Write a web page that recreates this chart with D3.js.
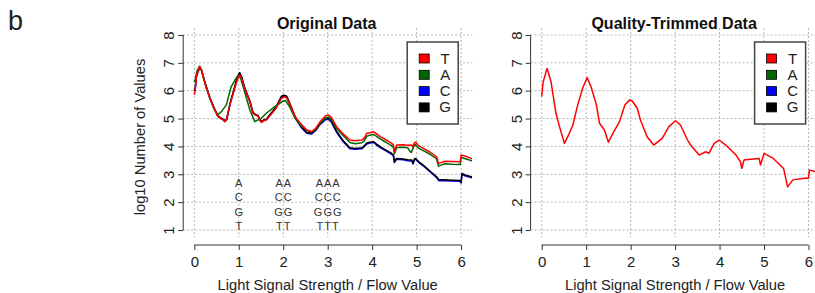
<!DOCTYPE html>
<html>
<head>
<meta charset="utf-8">
<script src="https://cdn.jsdelivr.net/npm/d3@7"></script>
<style>
  body { margin: 0; background: #fff; }
  svg { display: block; font-family: "Liberation Sans", Arial, sans-serif; }
</style>
</head>
<body>
<svg id="chart" width="815" height="293"></svg>
<script>
// ---- data ----
var xTicks = [0, 1, 2, 3, 4, 5, 6]
var yTicks = [1, 2, 3, 4, 5, 6, 7, 8]
var bases = ["T", "A", "C", "G"]
var baseColors = ["#ff0000", "#006400", "#0000ff", "#000000"]
var annotRuns = [1, 2, 3]            // homopolymer length written under each flow value
var annotBases = ["A", "C", "G", "T"]

// Original data, [flow value, log10 count]
var origT = [[0,5.85],[0.02,6.0],[0.05,6.56],[0.12,6.86],[0.16,6.75],[0.23,6.32],[0.35,5.73],[0.46,5.31],[0.53,5.07],[0.6,5.0],[0.65,4.95],[0.68,4.89],[0.72,4.95],[0.8,5.49],[0.91,6.09],[0.97,6.4],[1.02,6.56],[1.06,6.45],[1.13,6.09],[1.25,5.61],[1.32,5.19],[1.38,5.12],[1.43,5.1],[1.47,4.95],[1.51,4.86],[1.56,4.92],[1.62,4.95],[1.7,5.1],[1.84,5.37],[1.96,5.73],[2.03,5.78],[2.08,5.74],[2.18,5.4],[2.27,5.07],[2.4,4.8],[2.53,4.59],[2.64,4.53],[2.73,4.65],[2.83,4.89],[2.95,5.1],[3.01,5.13],[3.08,5.05],[3.2,4.71],[3.35,4.45],[3.5,4.23],[3.62,4.2],[3.7,4.22],[3.77,4.23],[3.82,4.3],[3.88,4.47],[3.95,4.49],[4.03,4.53],[4.1,4.45],[4.18,4.35],[4.3,4.25],[4.44,4.11],[4.48,4.05],[4.5,3.81],[4.53,3.95],[4.55,4.05],[4.7,4.06],[4.8,4.04],[4.89,4.05],[4.92,3.98],[4.95,4.13],[4.98,4.15],[5.05,4.02],[5.15,3.93],[5.3,3.8],[5.45,3.63],[5.49,3.39],[5.55,3.42],[5.64,3.47],[5.8,3.46],[5.98,3.45],[6.0,3.69],[6.1,3.65],[6.23,3.57],[6.25,3.56]]
var origA = [[0,6.3],[0.02,6.4],[0.06,6.7],[0.12,6.88],[0.17,6.7],[0.27,6.09],[0.42,5.43],[0.53,5.13],[0.57,5.2],[0.61,5.25],[0.72,5.49],[0.83,6.15],[0.94,6.45],[0.99,6.55],[1.04,6.45],[1.13,5.97],[1.25,5.31],[1.36,4.89],[1.43,4.95],[1.5,5.0],[1.62,5.19],[1.81,5.43],[1.99,5.62],[2.05,5.65],[2.15,5.4],[2.27,5.0],[2.4,4.75],[2.53,4.58],[2.64,4.52],[2.73,4.62],[2.83,4.83],[2.95,5.02],[3.02,5.05],[3.08,4.97],[3.2,4.65],[3.35,4.38],[3.5,4.14],[3.62,4.1],[3.77,4.13],[3.82,4.2],[3.88,4.37],[3.95,4.4],[4.03,4.43],[4.1,4.36],[4.18,4.27],[4.3,4.16],[4.44,4.02],[4.48,3.96],[4.5,3.73],[4.53,3.86],[4.55,3.96],[4.7,3.97],[4.8,3.95],[4.85,3.82],[4.88,3.78],[4.92,3.93],[4.96,4.08],[5.05,3.93],[5.15,3.85],[5.3,3.72],[5.45,3.55],[5.49,3.3],[5.55,3.33],[5.64,3.38],[5.8,3.36],[5.98,3.35],[6.0,3.6],[6.1,3.56],[6.23,3.49],[6.25,3.48]]
var origC = [[0,5.98],[0.02,6.08],[0.05,6.52],[0.12,6.83],[0.16,6.73],[0.23,6.33],[0.35,5.73],[0.46,5.31],[0.53,5.08],[0.6,5.0],[0.65,4.95],[0.69,4.9],[0.73,4.96],[0.8,5.5],[0.91,6.13],[0.97,6.47],[1.02,6.62],[1.06,6.5],[1.13,6.1],[1.25,5.6],[1.32,5.2],[1.38,5.12],[1.43,5.1],[1.47,4.96],[1.51,4.88],[1.56,4.93],[1.62,4.96],[1.7,5.12],[1.84,5.4],[1.96,5.77],[2.02,5.81],[2.08,5.77],[2.18,5.39],[2.27,5.02],[2.4,4.69],[2.53,4.47],[2.64,4.45],[2.73,4.57],[2.83,4.79],[2.95,4.96],[3.01,4.98],[3.08,4.88],[3.2,4.51],[3.35,4.17],[3.5,3.92],[3.62,3.9],[3.77,3.92],[3.82,3.99],[3.88,4.09],[3.95,4.12],[4.03,4.14],[4.1,4.05],[4.18,3.96],[4.3,3.85],[4.44,3.72],[4.48,3.65],[4.5,3.42],[4.53,3.5],[4.55,3.54],[4.7,3.52],[4.8,3.49],[4.89,3.48],[4.92,3.37],[4.95,3.52],[4.98,3.54],[5.05,3.42],[5.15,3.3],[5.3,3.09],[5.45,2.88],[5.5,2.77],[5.6,2.77],[5.8,2.76],[5.97,2.75],[6.0,2.69],[6.02,3.0],[6.1,2.94],[6.23,2.88],[6.25,2.87]]
var origG = [[0,6.0],[0.02,6.1],[0.05,6.55],[0.12,6.85],[0.16,6.75],[0.23,6.35],[0.35,5.75],[0.46,5.33],[0.53,5.1],[0.6,5.02],[0.65,4.97],[0.69,4.92],[0.73,4.98],[0.8,5.52],[0.91,6.15],[0.97,6.5],[1.02,6.65],[1.06,6.52],[1.13,6.12],[1.25,5.63],[1.32,5.22],[1.38,5.14],[1.43,5.12],[1.47,4.98],[1.51,4.9],[1.56,4.95],[1.62,4.98],[1.7,5.14],[1.84,5.42],[1.96,5.8],[2.02,5.84],[2.08,5.8],[2.18,5.42],[2.27,5.05],[2.4,4.72],[2.53,4.5],[2.64,4.48],[2.73,4.6],[2.83,4.82],[2.95,5.0],[3.01,5.02],[3.08,4.92],[3.2,4.55],[3.35,4.2],[3.5,3.95],[3.62,3.93],[3.77,3.95],[3.82,4.02],[3.88,4.12],[3.95,4.15],[4.03,4.17],[4.1,4.08],[4.18,3.99],[4.3,3.88],[4.44,3.75],[4.48,3.68],[4.5,3.45],[4.53,3.53],[4.55,3.57],[4.7,3.55],[4.8,3.52],[4.89,3.51],[4.92,3.4],[4.95,3.55],[4.98,3.57],[5.05,3.45],[5.15,3.33],[5.3,3.12],[5.45,2.91],[5.5,2.8],[5.6,2.8],[5.8,2.79],[5.97,2.78],[6.0,2.72],[6.02,3.03],[6.1,2.97],[6.23,2.91],[6.25,2.9]]

// Quality-trimmed data (the four bases lie on top of each other, T drawn last)
var trimT = [[0,5.79],[0.03,6.3],[0.12,6.8],[0.21,6.32],[0.25,5.9],[0.32,5.19],[0.4,4.71],[0.51,4.11],[0.62,4.47],[0.7,4.77],[0.81,5.49],[0.92,6.09],[1.02,6.47],[1.11,6.14],[1.23,5.49],[1.3,4.83],[1.41,4.59],[1.5,4.15],[1.6,4.47],[1.75,4.89],[1.87,5.49],[1.98,5.67],[2.03,5.64],[2.15,5.37],[2.22,4.95],[2.37,4.35],[2.52,4.05],[2.71,4.29],[2.86,4.71],[3.01,4.92],[3.12,4.77],[3.28,4.23],[3.35,4.05],[3.54,3.69],[3.69,3.81],[3.76,3.75],[3.88,4.11],[3.99,4.23],[4.14,4.05],[4.37,3.69],[4.47,3.45],[4.5,3.21],[4.55,3.51],[4.75,3.55],[4.89,3.57],[4.92,3.33],[5.0,3.75],[5.21,3.57],[5.44,3.21],[5.53,2.55],[5.65,2.8],[5.91,2.86],[6.0,2.86],[6.02,3.15],[6.17,3.09],[6.25,3.07]]

// ---- layout ----
var svg = d3.select("#chart")
var plotW = 289, plotTop = 28, plotBottom = 237

svg.append("text")
    .attr("x", 8).attr("y", 30)
    .style("font-size", "27px").style("fill", "#222")
    .text("b")

function Panel(options) {
    var left = options.left,
        title = options.title,
        series = options.series,
        annotate = options.annotate

    var x = d3.scaleLinear().domain([-0.25, 6.25]).range([left, left + plotW])
    var y = d3.scaleLinear().domain([0.75, 8.25]).range([plotBottom, plotTop])
    var g = svg.append("g")

    var clipId = "clip" + Math.round(left)
    g.append("clipPath").attr("id", clipId)
        .append("rect")
        .attr("x", left).attr("y", plotTop)
        .attr("width", plotW).attr("height", plotBottom - plotTop)

    // grid
    g.append("g").selectAll("line")
        .data(xTicks)
        .enter().append("line")
        .attr("x1", d => x(d)).attr("x2", d => x(d))
        .attr("y1", plotTop).attr("y2", plotBottom)
        .attr("stroke", "#b4b4b4").attr("stroke-dasharray", "2,2")
    g.append("g").selectAll("line")
        .data(yTicks)
        .enter().append("line")
        .attr("x1", left).attr("x2", left + plotW)
        .attr("y1", d => y(d)).attr("y2", d => y(d))
        .attr("stroke", "#b4b4b4").attr("stroke-dasharray", "2,2")

    // curves
    var line = d3.line().x(d => x(d[0])).y(d => y(d[1]))
    g.append("g").attr("clip-path", "url(#" + clipId + ")")
        .selectAll("path")
        .data(series)
        .enter().append("path")
        .attr("d", d => line(d.values))
        .attr("fill", "none")
        .attr("stroke", d => d.color)
        .attr("stroke-width", 1.5)
        .attr("stroke-linejoin", "round")

    // x axis sits a little below the plot region
    var xAxisY = 245
    var xAxis = g.append("g")
        .attr("transform", "translate(0," + xAxisY + ")")
        .call(d3.axisBottom(x).tickValues(xTicks).tickFormat(d3.format("d"))
            .tickSize(5).tickPadding(6).tickSizeOuter(0))
    xAxis.select(".domain").remove()
    xAxis.append("line")
        .attr("x1", x(0)).attr("x2", x(6))
        .attr("stroke", "#333")
    xAxis.selectAll(".tick line").attr("stroke", "#333")
    xAxis.selectAll("text")
        .style("font-size", "15px").style("fill", "#222")
        .style("font-family", "'Liberation Sans', Arial, sans-serif")

    // y axis with rotated labels (R style)
    var yAxis = g.append("g")
        .attr("transform", "translate(" + left + ",0)")
        .call(d3.axisLeft(y).tickValues(yTicks).tickFormat(d3.format("d"))
            .tickSize(5).tickSizeOuter(0))
    yAxis.select(".domain").remove()
    yAxis.append("line")
        .attr("y1", y(1)).attr("y2", y(8))
        .attr("stroke", "#333")
    yAxis.selectAll(".tick line").attr("stroke", "#333")
    yAxis.selectAll("text")
        .attr("transform", "rotate(-90)")
        .attr("x", 0).attr("y", -9).attr("dy", 0)
        .attr("text-anchor", "middle")
        .style("font-size", "15px").style("fill", "#222")
        .style("font-family", "'Liberation Sans', Arial, sans-serif")

    // title
    g.append("text")
        .attr("x", left + plotW / 2 - 1).attr("y", 29)
        .attr("text-anchor", "middle")
        .style("font-size", "16px").style("font-weight", "bold").style("fill", "#111")
        .text(title)

    // x label
    g.append("text")
        .attr("x", (x(0) + x(6)) / 2).attr("y", 290)
        .attr("text-anchor", "middle")
        .style("font-size", "14.7px").style("fill", "#222")
        .text("Light Signal Strength / Flow Value")

    // legend
    var lx = left + plotW - 65, ly = 42
    var key = g.append("g").attr("transform", "translate(" + lx + "," + ly + ")")
    key.append("rect")
        .attr("width", 51).attr("height", 82)
        .attr("fill", "#fff").attr("stroke", "#444").attr("stroke-width", 1.5)
    key.selectAll("rect.sw")
        .data(bases)
        .enter().append("rect")
        .attr("class", "sw")
        .attr("x", 12).attr("y", (d, i) => 12 + i * 16.3)
        .attr("width", 10).attr("height", 9)
        .attr("fill", (d, i) => baseColors[i])
        .attr("stroke", "#000").attr("stroke-width", 0.8)
    key.selectAll("text")
        .data(bases)
        .enter().append("text")
        .attr("x", 38).attr("y", (d, i) => 21.5 + i * 16.3)
        .attr("text-anchor", "middle")
        .style("font-size", "15px").style("fill", "#222")
        .text(d => d)

    // homopolymer annotations under the peaks
    if (annotate) {
        var ann = g.append("g")
        annotRuns.forEach(function(n) {
            ann.selectAll(null)
                .data(annotBases)
                .enter().append("text")
                .attr("x", x(n) + 0.5).attr("y", (d, i) => 187 + i * 14.3)
                .attr("text-anchor", "middle")
                .style("font-size", "11px").style("letter-spacing", "1px").style("fill", "#333")
                .text(d => d.repeat(n))
        })
    }
}

Panel({
    left: 183.2,
    title: "Original Data",
    series: [
        {name: "C", color: baseColors[2], values: origC},
        {name: "G", color: baseColors[3], values: origG},
        {name: "A", color: baseColors[1], values: origA},
        {name: "T", color: baseColors[0], values: origT}
    ],
    annotate: true
})

Panel({
    left: 530.6,
    title: "Quality-Trimmed Data",
    series: [
        {name: "T", color: baseColors[0], values: trimT}
    ],
    annotate: false
})

// y label for the left panel
svg.append("text")
    .attr("transform", "translate(145,137) rotate(-90)")
    .attr("text-anchor", "middle")
    .style("font-size", "14.7px").style("fill", "#222")
    .text("log10 Number of Values")
</script>
</body>
</html>
